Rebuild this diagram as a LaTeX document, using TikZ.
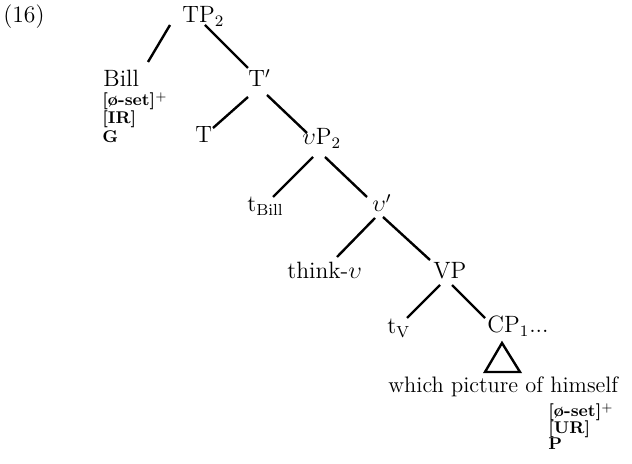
\documentclass[tikz,border=0pt]{standalone}
\begin{document}
\begin{tikzpicture}[x=0.5pt,y=-0.5pt,
  lab/.style={inner sep=0pt,anchor=base west,font=\fontsize{11.8}{13}\selectfont},
  feat/.style={inner sep=0pt,anchor=base west,font=\fontsize{8.5}{9}\selectfont\bfseries},
  br/.style={line width=1.2pt}]
\useasboundingbox (0,0) rectangle (632,464);
\node[lab] (num) at (3,23) {(16)};
\node[lab] (TP) at (182,23) {TP$_2$};
\node[lab] (Bill) at (103,87) {Bill};
\node[feat] (f1) at (102,106) {[\o-set]$^{+}$};
\node[feat] (f2) at (102,124) {[IR]};
\node[feat] (f3) at (102,143) {G};
\node[lab] (Tb) at (248,87) {T$'$};
\node[lab] (T) at (195,143) {T};
\node[lab] (vP) at (302,145) {$\upsilon$P$_2$};
\node[lab] (tB) at (247,212) {t$_{\mathrm{Bill}}$};
\node[lab] (vb) at (372,212) {$\upsilon'$};
\node[lab] (think) at (287,279) {think-$\upsilon$};
\node[lab] (VP) at (433,279) {VP};
\node[lab] (tv) at (387,334) {t$_{\mathrm{V}}$};
\node[lab] (CP) at (487,333) {CP$_1$...};
\node[lab,font=\fontsize{11.2}{12}\selectfont] (wp) at (388,393) {which picture of himself};
\node[feat] (g1) at (548,417) {[\o-set]$^{+}$};
\node[feat] (g2) at (548,434) {[UR]};
\node[feat] (g3) at (548,450) {P};
\draw[br] ([shift={(-12,2)}]TP.base west) -- ([shift={(45,-25)}]Bill.base west);
\draw[br] ([shift={(23,2)}]TP.base west) -- ([shift={(0,-19)}]Tb.base west);
\draw[br] ([shift={(0,10)}]Tb.base west) -- ([shift={(18,-15)}]T.base west);
\draw[br] ([shift={(19,8)}]Tb.base west) -- ([shift={(5,-12)}]vP.base west);
\draw[br] ([shift={(11,12)}]vP.base west) -- ([shift={(26,-15)}]tB.base west);
\draw[br] ([shift={(23,12)}]vP.base west) -- ([shift={(-5,-15)}]vb.base west);
\draw[br] ([shift={(3,6)}]vb.base west) -- ([shift={(50,-22)}]think.base west);
\draw[br] ([shift={(11,5)}]vb.base west) -- ([shift={(-3,-19)}]VP.base west);
\draw[br] ([shift={(7,6)}]VP.base west) -- ([shift={(20,-16)}]tv.base west);
\draw[br] ([shift={(19,6)}]VP.base west) -- ([shift={(-2,-15)}]CP.base west);
\draw[br,line join=miter] ([shift={(15,10)}]CP.base west) -- ([shift={(-2,39)}]CP.base west) -- ([shift={(33,39)}]CP.base west) -- cycle;
\end{tikzpicture}
\end{document}
